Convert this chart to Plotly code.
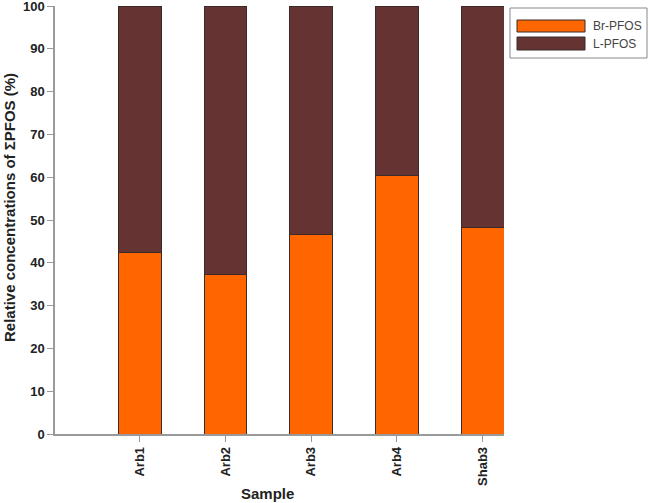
import plotly.graph_objects as go

samples = ["Arb1", "Arb2", "Arb3", "Arb4", "Shab3"]
br_pfos = [42.5, 37.3, 46.7, 60.5, 48.3]
l_pfos = [57.5, 62.7, 53.3, 39.5, 51.7]
series_names = ["Br-PFOS", "L-PFOS"]
series_colors = ["#FF6600", "#663333"]

L, R, T, B = 55, 504, 6, 434
W, H = 649, 503
def px(x):
    return (x - L) / (R - L)
def py(y):
    return (B - y) / (B - T)

fig = go.Figure()
for name, vals, col in zip(series_names, [br_pfos, l_pfos], series_colors):
    fig.add_trace(go.Bar(x=samples, y=vals, name=name,
                         marker=dict(color=col, line=dict(color="#3a2a2a", width=1)), width=0.5))

font_fam = "Liberation Sans, Arial, sans-serif"

shapes = [dict(type="rect", xref="paper", yref="paper", x0=px(510), x1=px(647), y0=py(58), y1=py(8),
               line=dict(color="#888888", width=1), fillcolor="white")]
annotations = []
sw = [(20, 32), (37, 50)]
for (y0, y1), name, col in zip(sw, series_names, series_colors):
    shapes.append(dict(type="rect", xref="paper", yref="paper", x0=px(517), x1=px(585), y0=py(y1), y1=py(y0),
                       line=dict(color="#3a2a2a", width=1), fillcolor=col))
    annotations.append(dict(text=name, xref="paper", yref="paper", x=px(591), y=py((y0 + y1) / 2),
                            xanchor="left", yanchor="middle", showarrow=False,
                            font=dict(size=12, color="#444444", family=font_fam)))
annotations.append(dict(text="<b>Sample</b>", xref="paper", yref="paper", x=px(267), y=py(493),
                        xanchor="center", yanchor="middle", showarrow=False,
                        font=dict(size=15, color="#222222", family=font_fam)))
annotations.append(dict(text="<b>Relative concentrations of ΣPFOS (%)</b>", xref="paper", yref="paper",
                        x=px(9), y=py(208), xanchor="center", yanchor="middle", textangle=-90, showarrow=False,
                        font=dict(size=15, color="#222222", family=font_fam)))

fig.update_layout(
    barmode="stack",
    width=W, height=H,
    margin=dict(l=L, r=W - R, t=T, b=H - B, autoexpand=False),
    plot_bgcolor="white", paper_bgcolor="white",
    font=dict(family=font_fam, color="#222222"),
    showlegend=False,
    shapes=shapes, annotations=annotations,
    xaxis=dict(type="category", range=[-0.99, 4.25], showline=True, linecolor="#999999", linewidth=1.5,
               ticks="outside", tickcolor="#999999", ticklen=6, tickangle=-90, automargin=False,
               tickfont=dict(size=13, family=font_fam, color="#222222", weight="bold"), showgrid=False),
    yaxis=dict(range=[0, 100.001], tickvals=list(range(0, 101, 10)), showline=True, linecolor="#999999", linewidth=1.5,
               ticks="outside", tickcolor="#999999", ticklen=6, automargin=False, ticklabeloverflow="allow",
               tickfont=dict(size=13, family=font_fam, color="#222222", weight="bold"),
               showgrid=False, zeroline=False),
)
fig.write_html("out.html", config={"displayModeBar": False},
               post_script="document.body.style.margin='0';document.body.style.overflow='hidden';")
